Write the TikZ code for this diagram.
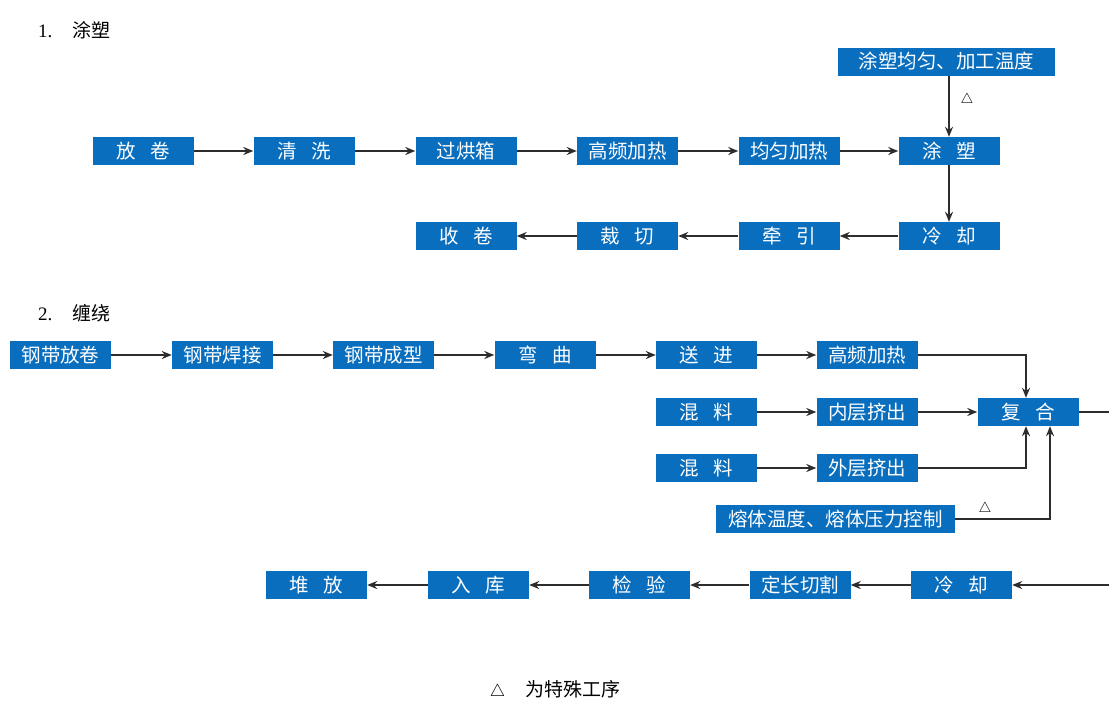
\documentclass[tikz,border=0pt]{standalone}
\usepackage{fontspec}
\setmainfont{Liberation Serif}
\newfontfamily\cjk{Noto Sans CJK SC}
\usetikzlibrary{arrows.meta,calc}
\definecolor{boxblue}{RGB}{10,110,190}
\definecolor{linegray}{RGB}{45,45,45}
\newcommand{\gp}{\hspace{0.75em}}
\tikzset{
  pbox/.style={fill=boxblue, text=white, minimum width=101pt, minimum height=28pt, inner sep=0pt, font=\cjk\fontsize{19.5}{19.5}\selectfont},
  conn/.style={draw=linegray, line width=2pt, -{Stealth[length=10pt,width=8pt]}},
  head/.style={font=\fontsize{19}{19}\selectfont, anchor=west, inner sep=0pt},
  tri/.style={font=\fontsize{14}{14}\selectfont, inner sep=0pt}
}
\begin{document}
\begin{tikzpicture}[x=1pt,y=-1pt]
\useasboundingbox (0,0) rectangle (1109,710);
% section 1
\node[head] (h1) at (38,30) {1.\hspace{20pt}{\cjk 涂塑}};
\node[pbox, minimum width=217pt] (ctl1) at (946.5,61.5) {涂塑均匀、加工温度};
\node[pbox] (a1) at (143.5,151) {放\gp 卷};
\node[pbox] (a2) at (304,151) {清\gp 洗};
\node[pbox] (a3) at (466,151) {过烘箱};
\node[pbox] (a4) at (627.5,151) {高频加热};
\node[pbox] (a5) at (789,151) {均匀加热};
\node[pbox] (a6) at (949,151) {涂\gp 塑};
\node[pbox] (b4) at (949,236) {冷\gp 却};
\node[pbox] (b3) at (789,236) {牵\gp 引};
\node[pbox] (b2) at (627.5,236) {裁\gp 切};
\node[pbox] (b1) at (466,236) {收\gp 卷};
\node[tri] (t1) at (967,100) {$\triangle$};
\draw[conn] (a1) -- (a2);
\draw[conn] (a2) -- (a3);
\draw[conn] (a3) -- (a4);
\draw[conn] (a4) -- (a5);
\draw[conn] (a5) -- (a6);
\draw[conn] (ctl1.south -| a6.north) -- (a6.north);
\draw[conn] (a6) -- (b4);
\draw[conn] (b4) -- (b3);
\draw[conn] (b3) -- (b2);
\draw[conn] (b2) -- (b1);
% section 2
\node[head] (h2) at (38,313) {2.\hspace{20pt}{\cjk 缠绕}};
\node[pbox] (c1) at (60.5,355) {钢带放卷};
\node[pbox] (c2) at (222.5,355) {钢带焊接};
\node[pbox] (c3) at (383.5,355) {钢带成型};
\node[pbox] (c4) at (545,355) {弯\gp 曲};
\node[pbox] (c5) at (706.5,355) {送\gp 进};
\node[pbox] (c6) at (867,355) {高频加热};
\node[pbox] (d1) at (706.5,412) {混\gp 料};
\node[pbox] (d2) at (867,412) {内层挤出};
\node[pbox] (fh) at (1028,412) {复\gp 合};
\node[pbox] (e1) at (706.5,468) {混\gp 料};
\node[pbox] (e2) at (867,468) {外层挤出};
\node[pbox, minimum width=239pt] (ctl2) at (835.5,519) {熔体温度、熔体压力控制};
\node[tri] (t2) at (985,509) {$\triangle$};
\node[pbox] (f5) at (961.5,585) {冷\gp 却};
\node[pbox] (f4) at (800,585) {定长切割};
\node[pbox] (f3) at (639.5,585) {检\gp 验};
\node[pbox] (f2) at (478.5,585) {入\gp 库};
\node[pbox] (f1) at (316.5,585) {堆\gp 放};
\coordinate (r1) at (1125,412);
\coordinate (r2) at (1125,585);
\draw[conn] (c1) -- (c2);
\draw[conn] (c2) -- (c3);
\draw[conn] (c3) -- (c4);
\draw[conn] (c4) -- (c5);
\draw[conn] (c5) -- (c6);
\draw[conn] (c6.east) -| ([xshift=-2pt]fh.north);
\draw[conn] (d1) -- (d2);
\draw[conn] (d2) -- (fh);
\draw[conn] (e1) -- (e2);
\draw[conn] (e2.east) -| ([xshift=-2pt]fh.south);
\draw[conn] (ctl2.east) -| ([xshift=22pt]fh.south);
\draw[conn] (fh.east) -- (r1) -- (r2) -- (f5.east);
\draw[conn] (f5) -- (f4);
\draw[conn] (f4) -- (f3);
\draw[conn] (f3) -- (f2);
\draw[conn] (f2) -- (f1);
% footer
\node[font=\fontsize{19}{19}\selectfont, inner sep=0pt] (note) at (555,690) {$\triangle$\hspace{20pt}{\cjk 为特殊工序}};
\end{tikzpicture}
\end{document}
